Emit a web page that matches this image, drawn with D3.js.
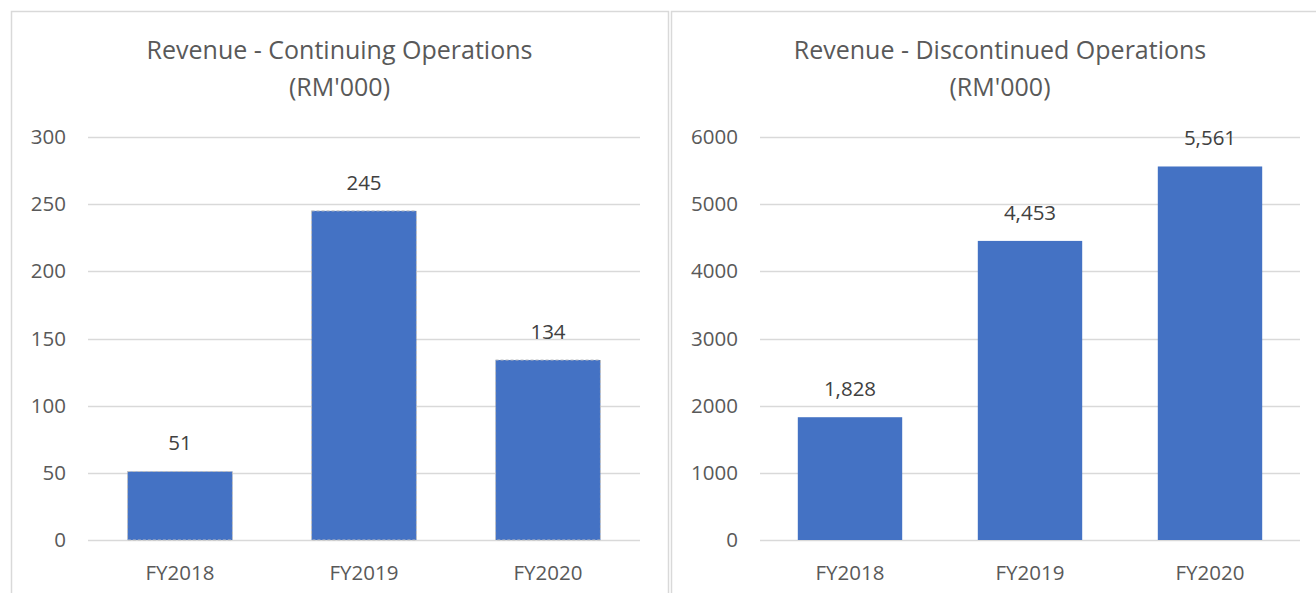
<!DOCTYPE html>
<html>
<head>
<meta charset="utf-8">
<script src="https://cdn.jsdelivr.net/npm/d3@7"></script>
<style>
  body { margin: 0; background: #fff; }
  svg { display: block; font-family: "Open Sans", "Noto Sans", sans-serif; }
</style>
</head>
<body>
<svg id="chart" width="1316" height="593"></svg>
<script>
// Data
const years = ['FY2018', 'FY2019', 'FY2020'];
const continuingValues = [51, 245, 134];
const discontinuedValues = [1828, 4453, 5561];
const continuingTicks = [0, 50, 100, 150, 200, 250, 300];
const discontinuedTicks = [0, 1000, 2000, 3000, 4000, 5000, 6000];

const svg = d3.select('#chart');

function drawPanel(opts) {
  const g = svg.append('g');

  // panel border
  g.append('rect')
    .attr('x', opts.box[0] + 0.5)
    .attr('y', opts.box[1] + 0.5)
    .attr('width', opts.box[2])
    .attr('height', opts.box[3])
    .style('fill', '#fff')
    .style('stroke', '#d9d9d9')
    .style('stroke-width', 1.5);

  // title
  const cx = opts.box[0] + opts.box[2] / 2;
  opts.title.forEach((t, i) => {
    g.append('text')
      .attr('x', cx)
      .attr('y', 59 + i * 37)
      .attr('text-anchor', 'middle')
      .style('font-size', '25px')
      .style('fill', '#595959')
      .text(t);
  });

  const x = d3.scaleBand()
    .domain(years)
    .range([opts.left, opts.right])
    .paddingInner(opts.pad)
    .paddingOuter(opts.pad / 2);

  const y = d3.scaleLinear()
    .domain([0, d3.max(opts.ticks)])
    .range([540, 137]);

  // gridlines
  g.selectAll('.grid')
    .data(opts.ticks)
    .enter()
    .append('line')
    .attr('x1', opts.left)
    .attr('x2', opts.right)
    .attr('y1', d => Math.round(y(d)) + 0.5)
    .attr('y2', d => Math.round(y(d)) + 0.5)
    .style('stroke', '#d9d9d9')
    .style('stroke-width', 1.5);

  // y tick labels
  const yAxis = g.append('g')
    .attr('transform', `translate(${opts.left - 22},0)`)
    .call(d3.axisLeft(y).tickValues(opts.ticks).tickSize(0).tickPadding(0).tickFormat(d3.format('d')));
  yAxis.select('.domain').remove();
  yAxis.selectAll('text')
    .style('font-family', '"Open Sans", sans-serif')
    .style('font-size', '20.5px')
    .style('fill', '#595959');

  // x tick labels
  const xAxis = g.append('g')
    .attr('transform', 'translate(0,540)')
    .call(d3.axisBottom(x).tickSize(0).tickPadding(25));
  xAxis.select('.domain').remove();
  xAxis.selectAll('text')
    .style('font-family', '"Open Sans", sans-serif')
    .style('font-size', '20.5px')
    .style('fill', '#595959');

  // bars
  g.selectAll('.bar')
    .data(opts.values)
    .enter()
    .append('rect')
    .attr('x', (d, i) => x(years[i]))
    .attr('y', d => y(d))
    .attr('width', x.bandwidth())
    .attr('height', d => y(0) - y(d))
    .style('fill', '#4472c4')
    .style('stroke', opts.dashed ? '#bfbfbf' : 'none')
    .style('stroke-width', 1)
    .style('stroke-dasharray', '3,2');

  // value labels
  g.selectAll('.val')
    .data(opts.values)
    .enter()
    .append('text')
    .attr('x', (d, i) => x(years[i]) + x.bandwidth() / 2)
    .attr('y', d => y(d) - 21)
    .attr('text-anchor', 'middle')
    .style('font-size', '20.5px')
    .style('fill', '#404040')
    .text(d => d3.format(',')(d));
}

drawPanel({
  box: [11, 11, 657, 600],
  title: ['Revenue - Continuing Operations', "(RM'000)"],
  left: 88, right: 640, pad: 0.43,
  ticks: continuingTicks,
  values: continuingValues,
  dashed: true
});

drawPanel({
  box: [671, 11, 658, 600],
  title: ['Revenue - Discontinued Operations', "(RM'000)"],
  left: 760, right: 1300, pad: 0.42,
  ticks: discontinuedTicks,
  values: discontinuedValues,
  dashed: false
});
</script>
</body>
</html>
